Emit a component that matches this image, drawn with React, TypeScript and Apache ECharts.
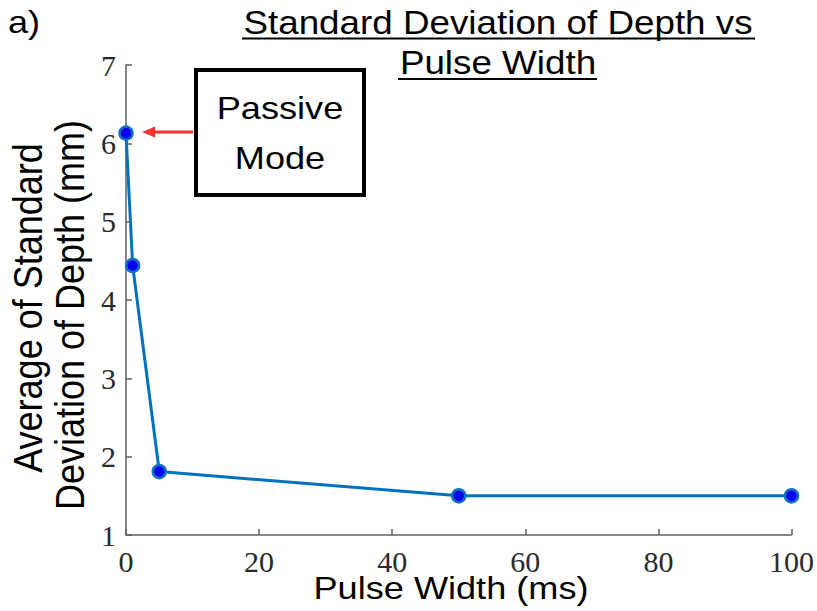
import React, { useEffect, useRef } from "react";
import * as echarts from "echarts";

const pulseWidths = [0, 1, 5, 50, 100];
const stdDepth = [6.13, 4.44, 1.81, 1.5, 1.5];
const xTicks = { min: 0, max: 100, interval: 20 };
const yTicks = { min: 1, max: 7, interval: 1 };
const titleLines = ["Standard Deviation of Depth vs", "Pulse Width"];
const yNameLines = ["Average of Standard", "Deviation of Depth (mm)"];
const xName = "Pulse Width (ms)";
const panelLabel = "a)";
const annotationLines = ["Passive", "Mode"];

const SANS = "'Liberation Sans', Arial, sans-serif";
const SERIF = "'Liberation Serif', 'Times New Roman', serif";

export default function App() {
  const ref = useRef<HTMLDivElement>(null);
  useEffect(() => {
    if (!ref.current) return;
    document.body.style.margin = "0";
    const chart = echarts.init(ref.current, null, { renderer: "svg" });
    const data = pulseWidths.map((x, i) => [x, stdDepth[i]]);
    const sx = 1.13;
    const option: any = {
      animation: false,
      backgroundColor: "#fff",
      grid: { left: 126, right: 25, top: 65, bottom: 76, containLabel: false },
      xAxis: {
        type: "value",
        min: xTicks.min,
        max: xTicks.max,
        interval: xTicks.interval,
        axisLine: { show: true, lineStyle: { color: "#606060", width: 1.5 } },
        axisTick: { show: true, inside: true, length: 6, lineStyle: { color: "#606060", width: 1.5 } },
        splitLine: { show: false },
        axisLabel: { fontFamily: SERIF, fontSize: 30, color: "#2a2a2a", margin: 11 },
      },
      yAxis: {
        type: "value",
        min: yTicks.min,
        max: yTicks.max,
        interval: yTicks.interval,
        axisLine: { show: true, lineStyle: { color: "#606060", width: 1.5 } },
        axisTick: { show: true, inside: true, length: 6, lineStyle: { color: "#606060", width: 1.5 } },
        splitLine: { show: false },
        axisLabel: { fontFamily: SERIF, fontSize: 30, color: "#2a2a2a", margin: 10 },
      },
      series: [
        {
          type: "line",
          data,
          lineStyle: { color: "#0072BD", width: 3 },
          symbol: "circle",
          symbolSize: 13,
          itemStyle: { color: "#0000F0", borderColor: "#1470C0", borderWidth: 2.5 },
          z: 3,
        },
      ],
      graphic: [
        {
          type: "text",
          x: 8,
          y: 22,
          scaleX: sx,
          style: { text: panelLabel, font: `32px ${SANS}`, fill: "#000", textAlign: "left", textVerticalAlign: "middle" },
        },
        {
          type: "text",
          x: 498,
          y: 22,
          scaleX: 1.15,
          scaleY: 1.05,
          style: { text: titleLines[0], font: `32px ${SANS}`, fill: "#000", textAlign: "center", textVerticalAlign: "middle" },
        },
        {
          type: "text",
          x: 498,
          y: 62,
          scaleX: 1.15,
          scaleY: 1.05,
          style: { text: titleLines[1], font: `32px ${SANS}`, fill: "#000", textAlign: "center", textVerticalAlign: "middle" },
        },
        { type: "line", shape: { x1: 242, y1: 38.5, x2: 755, y2: 38.5 }, style: { stroke: "#000", lineWidth: 2 } },
        { type: "line", shape: { x1: 398, y1: 79, x2: 597, y2: 79 }, style: { stroke: "#000", lineWidth: 2 } },
        {
          type: "rect",
          shape: { x: 196, y: 70, width: 168, height: 125 },
          style: { fill: "#fff", stroke: "#000", lineWidth: 4 },
          z: 10,
        },
        {
          type: "text",
          x: 280,
          y: 108,
          scaleX: sx,
          z: 11,
          style: { text: annotationLines[0], font: `32px ${SANS}`, fill: "#000", textAlign: "center", textVerticalAlign: "middle" },
        },
        {
          type: "text",
          x: 280,
          y: 158,
          scaleX: sx,
          z: 11,
          style: { text: annotationLines[1], font: `32px ${SANS}`, fill: "#000", textAlign: "center", textVerticalAlign: "middle" },
        },
        { type: "line", shape: { x1: 153, y1: 132, x2: 193, y2: 132 }, style: { stroke: "#FF3030", lineWidth: 3 }, z: 10 },
        {
          type: "polygon",
          shape: { points: [[142, 132], [155, 126.5], [155, 137.5]] },
          style: { fill: "#FF3030" },
          z: 10,
        },
        {
          type: "text",
          x: 451,
          y: 588,
          scaleX: sx,
          style: { text: xName, font: `32px ${SANS}`, fill: "#000", textAlign: "center", textVerticalAlign: "middle" },
        },
        {
          type: "text",
          x: 28,
          y: 308,
          rotation: Math.PI / 2,
          scaleY: sx,
          style: { text: yNameLines[0], font: `36px ${SANS}`, fill: "#000", textAlign: "center", textVerticalAlign: "middle" },
        },
        {
          type: "text",
          x: 70,
          y: 315,
          rotation: Math.PI / 2,
          scaleY: sx,
          style: { text: yNameLines[1], font: `36px ${SANS}`, fill: "#000", textAlign: "center", textVerticalAlign: "middle" },
        },
      ],
    };
    chart.setOption(option);
    return () => chart.dispose();
  }, []);
  return <div ref={ref} style={{ position: "absolute", left: 0, top: 0, width: 817, height: 611 }} />;
}
